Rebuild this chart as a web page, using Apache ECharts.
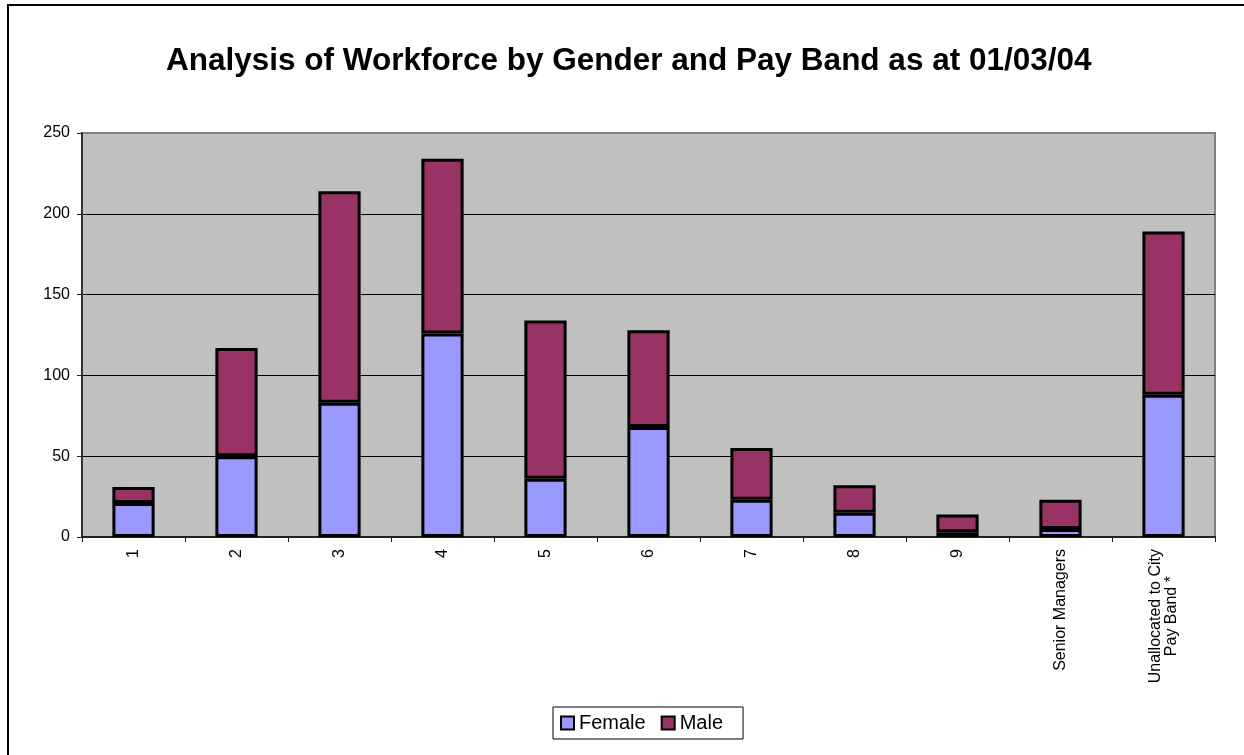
<!DOCTYPE html>
<html>
<head>
<meta charset="utf-8">
<script src="https://cdn.jsdelivr.net/npm/echarts@6/dist/echarts.min.js"></script>
<style>html,body{margin:0;padding:0;background:#fff;}#c{width:1244px;height:755px;}</style>
</head>
<body>
<div id="c"></div>
<script>
var categories = ['1','2','3','4','5','6','7','8','9','Senior Managers','Unallocated to City\nPay Band *'];
var female = [21, 50, 83, 126, 36, 68, 23, 15, 3, 5, 88];
var male = [10, 67, 131, 108, 98, 60, 32, 17, 11, 18, 101];
var yTicks = [0, 50, 100, 150, 200, 250];
var titleText = 'Analysis of Workforce by Gender and Pay Band as at 01/03/04';

var chart = echarts.init(document.getElementById('c'));
var font = 'Liberation Sans, Arial, sans-serif';
chart.setOption({
  backgroundColor: '#ffffff',
  animation: false,
  title: {
    text: titleText,
    left: 166,
    top: 45,
    padding: 0,
    textStyle: { fontFamily: font, fontSize: 31.5, fontWeight: 'bold', color: '#000' }
  },
  graphic: [{
    type: 'rect',
    shape: { x: 8, y: 5, width: 1300, height: 800 },
    style: { fill: null, stroke: '#000', lineWidth: 2 },
    silent: true, z: 100
  }],
  legend: {
    left: 553,
    top: 707,
    padding: [6, 20, 6, 7],
    itemGap: 15,
    itemWidth: 13,
    itemHeight: 13,
    icon: 'rect',
    borderColor: '#000',
    borderWidth: 1,
    textStyle: { fontFamily: font, fontSize: 20, color: '#000' },
    data: ['Female', 'Male']
  },
  grid: {
    left: 82, right: 29, top: 133, bottom: 218,
    show: true,
    backgroundColor: '#C0C0C0',
    borderColor: '#808080',
    borderWidth: 2
  },
  xAxis: {
    type: 'category',
    data: categories,
    axisLine: { lineStyle: { color: '#222', width: 2 } },
    axisTick: { show: true, length: 5, lineStyle: { color: '#222', width: 1 } },
    axisLabel: {
      rotate: 90,
      margin: 12,
      interval: 0,
      fontFamily: font,
      fontSize: 16,
      color: '#000',
      formatter: function (v) {
        var lines = v.split('\n');
        if (lines.length === 1) return v;
        return lines.map(function (l) { return '{c|' + l + '}'; }).join('\n');
      },
      rich: { c: { align: 'center', fontFamily: font, fontSize: 16, color: '#000' } }
    }
  },
  yAxis: {
    type: 'value',
    min: yTicks[0],
    max: yTicks[yTicks.length - 1],
    interval: 50,
    axisLine: { show: true, lineStyle: { color: '#333', width: 2 } },
    axisTick: { show: true, length: 5, lineStyle: { color: '#222', width: 1 } },
    axisLabel: { margin: 12, fontFamily: font, fontSize: 16, color: '#000' },
    splitLine: { show: true, showMinLine: false, showMaxLine: false, lineStyle: { color: '#000', width: 1.2 } }
  },
  series: [{
    name: 'Female',
    type: 'bar',
    stack: 'total',
    data: female,
    barWidth: '41%',
    itemStyle: { color: '#9999FF', borderColor: '#000', borderWidth: 3 }
  }, {
    name: 'Male',
    type: 'bar',
    stack: 'total',
    data: male,
    barWidth: '41%',
    itemStyle: { color: '#993366', borderColor: '#000', borderWidth: 3 }
  }]
});
</script>
</body>
</html>
